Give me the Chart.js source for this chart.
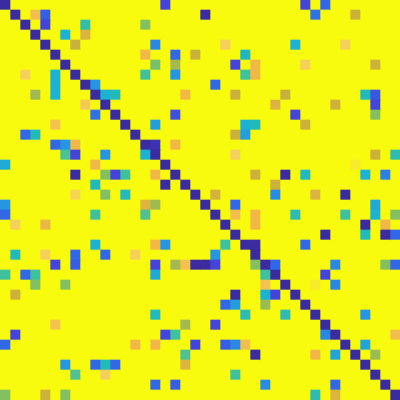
<!DOCTYPE html>
<html><head><meta charset="utf-8">
<script src="https://cdn.jsdelivr.net/npm/chart.js@4/dist/chart.umd.min.js"></script>
<style>html,body{margin:0;padding:0;background:#ffffff}#wrap{width:400px;height:400px}</style>
</head><body><div id="wrap"><canvas id="c" width="400" height="400"></canvas></div>
<script>
// Row / column categories of the 40x40 matrix
const rowLabels = ['1','2','3','4','5','6','7','8','9','10','11','12','13','14','15','16','17','18','19','20',
  '21','22','23','24','25','26','27','28','29','30','31','32','33','34','35','36','37','38','39','40'];
const colLabels = rowLabels.slice();
// Value of all cells not listed below (yellow background)
const backgroundValue = 1.0;
// Cells with a lower value: [row, column, value]
const lowCells = [
 [0,0,0.0],[0,16,0.1],[0,30,0.1],[0,32,0.2],
 [1,1,0.0],[1,3,0.87],[1,4,0.17],[1,20,0.0],[1,31,0.22],[1,35,0.76],
 [2,2,0.0],[2,4,0.1],[2,8,0.48],[2,14,0.62],
 [3,3,0.0],[3,6,0.4],[3,8,0.8],
 [4,4,0.0],[4,7,0.75],[4,15,0.27],[4,22,0.92],[4,29,0.4],[4,34,0.92],
 [5,5,0.0],[5,14,0.85],[5,17,0.2],[5,19,0.76],[5,24,0.43],
 [6,6,0.0],[6,15,0.6],[6,17,0.68],[6,23,0.1],[6,25,0.85],[6,30,0.92],[6,37,0.76],
 [7,2,0.92],[7,5,0.4],[7,7,0.0],[7,14,0.5],[7,17,0.3],[7,24,0.5],[7,25,0.85],
 [8,5,0.4],[8,8,0.0],[8,9,0.3],[8,21,0.2],
 [9,3,0.67],[9,5,0.4],[9,9,0.0],[9,10,0.4],[9,11,0.45],[9,18,0.85],[9,23,0.76],[9,28,0.75],[9,36,0.45],[9,37,0.15],
 [10,8,0.9],[10,10,0.0],[10,27,0.8],[10,33,0.76],[10,37,0.1],
 [11,9,0.22],[11,11,0.0],[11,17,0.13],[11,29,0.1],[11,37,0.62],
 [12,5,0.88],[12,12,0.0],[12,15,0.33],[12,24,0.4],[12,25,0.45],[12,30,0.76],
 [13,2,0.2],[13,3,0.45],[13,13,0.0],[13,23,0.76],[13,24,0.33],
 [14,5,0.2],[14,6,0.3],[14,7,0.85],[14,14,0.0],[14,15,0.03],[14,17,0.85],
 [15,6,0.52],[15,7,0.1],[15,10,0.3],[15,14,0.4],[15,15,0.0],[15,23,0.92],[15,37,0.76],[15,39,0.47],
 [16,0,0.38],[16,9,0.85],[16,16,0.0],[16,35,0.97],
 [17,7,0.0],[17,10,0.62],[17,11,0.1],[17,12,0.5],[17,15,0.85],[17,17,0.0],[17,25,0.76],[17,28,0.0],[17,30,0.45],[17,36,0.4],[17,38,0.25],
 [18,9,0.45],[18,16,0.0],[18,18,0.0],[18,27,0.76],
 [19,7,0.93],[19,10,0.62],[19,12,0.45],[19,19,0.0],[19,21,0.78],[19,27,0.28],[19,31,0.8],[19,34,0.0],
 [20,0,0.3],[20,14,0.8],[20,15,0.67],[20,20,0.0],[20,23,0.2],[20,37,0.37],
 [21,0,0.2],[21,9,0.5],[21,14,0.53],[21,21,0.0],[21,23,0.87],[21,25,0.85],[21,29,0.47],[21,34,0.5],[21,37,0.4],[21,39,0.62],
 [22,1,0.92],[22,4,0.83],[22,22,0.0],[22,25,0.85],[22,36,0.0],[22,38,0.85],
 [23,23,0.0],[23,32,0.0],[23,36,0.45],[23,38,0.0],[23,39,0.2],
 [24,9,0.4],[24,15,0.85],[24,16,0.3],[24,22,0.5],[24,24,0.0],[24,25,0.0],[24,30,0.2],
 [25,1,0.45],[25,4,0.92],[25,7,0.2],[25,10,0.2],[25,13,0.92],[25,21,0.3],[25,25,0.0],
 [26,5,0.1],[26,7,0.17],[26,15,0.1],[26,17,0.68],[26,18,0.88],[26,19,0.0],[26,20,0.0],[26,21,0.1],[26,25,0.62],[26,26,0.0],[26,27,0.2],[26,33,0.27],[26,38,0.62],[26,39,0.2],
 [27,0,0.5],[27,2,0.2],[27,3,0.5],[27,15,0.37],[27,26,0.5],[27,27,0.0],[27,32,0.1],
 [28,3,0.62],[28,6,0.62],[28,26,0.88],[28,28,0.0],[28,31,0.97],[28,33,0.27],
 [29,1,0.76],[29,23,0.0],[29,26,0.4],[29,27,0.1],[29,29,0.0],
 [30,22,0.2],[30,23,0.33],[30,26,0.66],[30,30,0.0],
 [31,15,0.45],[31,24,0.47],[31,28,0.47],[31,31,0.0],[31,36,0.3],
 [32,5,0.88],[32,18,0.68],[32,21,0.1],[32,32,0.0],
 [33,1,0.1],[33,16,0.1],[33,17,0.5],[33,32,0.27],[33,33,0.0],[33,39,0.87],
 [34,0,0.2],[34,13,0.85],[34,15,0.85],[34,19,0.1],[34,22,0.17],[34,23,0.27],[34,24,0.87],[34,34,0.0],[34,36,0.35],
 [35,18,0.53],[35,25,0.0],[35,31,0.85],[35,33,0.35],[35,35,0.0],[35,37,0.66],
 [36,6,0.3],[36,9,0.2],[36,10,0.45],[36,11,0.2],[36,18,0.8],[36,36,0.0],
 [37,7,0.53],[37,10,0.92],[37,23,0.5],[37,37,0.0],
 [38,15,0.2],[38,17,0.17],[38,26,0.28],[38,33,0.2],[38,38,0.0],
 [39,0,0.62],[39,4,0.76],[39,6,0.62],[39,31,0.47],[39,33,0.8],[39,39,0.0]
];

// parula-like colour scale
const stops = [
 [0.00,[58,44,158]],[0.10,[68,68,218]],[0.20,[50,104,230]],[0.30,[38,149,226]],
 [0.40,[28,178,210]],[0.45,[33,185,186]],[0.50,[63,193,158]],[0.62,[132,192,96]],
 [0.68,[166,185,78]],[0.76,[203,178,56]],[0.85,[242,184,70]],[0.92,[245,208,90]],
 [1.00,[249,251,14]]
];
function colourOf(v){
  if (v <= stops[0][0]) return 'rgb('+stops[0][1].join(',')+')';
  for (let i=1;i<stops.length;i++){
    if (v <= stops[i][0]){
      const a=stops[i-1], b=stops[i], t=(v-a[0])/(b[0]-a[0]);
      const c=a[1].map((x,k)=>Math.round(x+(b[1][k]-x)*t));
      return 'rgb('+c.join(',')+')';
    }
  }
  return 'rgb('+stops[stops.length-1][1].join(',')+')';
}

const matrix = rowLabels.map(()=>colLabels.map(()=>backgroundValue));
lowCells.forEach(([r,c,v])=>{ matrix[r][c]=v; });

const datasets = colLabels.map((lab,j)=>({
  label: lab,
  data: rowLabels.map(()=>1),
  backgroundColor: rowLabels.map((_,i)=>colourOf(matrix[i][j])),
  borderWidth: 0,
  barPercentage: 1,
  categoryPercentage: 1
}));

new Chart(document.getElementById('c'), {
  type: 'bar',
  data: { labels: rowLabels, datasets },
  options: {
    indexAxis: 'y',
    responsive: false,
    animation: false,
    layout: { padding: 0 },
    plugins: { legend: { display: false }, tooltip: { enabled: false } },
    scales: {
      x: { stacked: true, min: 0, max: colLabels.length, display: false },
      y: { stacked: true, display: false }
    }
  }
});
</script></body></html>
